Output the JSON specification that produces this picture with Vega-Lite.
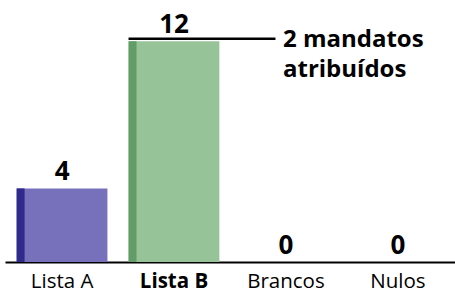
{
  "$schema": "https://vega.github.io/schema/vega-lite/v6.json",
  "width": 450,
  "height": 262,
  "padding": {"left": 5, "top": 0, "right": 0, "bottom": 0},
  "background": "white",
  "config": {"view": {"stroke": null}, "font": "Open Sans"},
  "data": {"values": [
    {"lista": "Lista A", "votos": 4},
    {"lista": "Lista B", "votos": 12},
    {"lista": "Brancos", "votos": 0},
    {"lista": "Nulos", "votos": 0}
  ]},
  "encoding": {
    "x": {"field": "lista", "type": "nominal", "sort": null,
      "scale": {"paddingInner": 0.19, "paddingOuter": 0.105},
      "axis": {"title": null, "domainColor": "black", "domainWidth": 2, "ticks": false, "labelAngle": 0,
        "labelFont": "Open Sans", "labelFontSize": 20.5, "labelColor": "black", "labelPadding": 9,
        "labelFontWeight": {"condition": {"test": "datum.value == 'Lista B'", "value": "bold"}, "value": "normal"}}},
    "y": {"field": "votos", "type": "quantitative", "scale": {"domain": [0, 14.24], "nice": false}, "axis": null}
  },
  "layer": [
    {"mark": {"type": "bar"},
      "encoding": {"fill": {"condition": {"test": "datum.lista == 'Lista A'", "value": "#7770ba"}, "value": "#97c398"}}},
    {"mark": {"type": "bar", "width": 8, "xOffset": -41.5},
      "encoding": {"fill": {"condition": {"test": "datum.lista == 'Lista A'", "value": "#2f2a8c"}, "value": "#629c66"}}},
    {"mark": {"type": "text", "fontSize": 26, "fontWeight": "bold", "font": "Open Sans", "color": "black", "baseline": "alphabetic", "dy": -8},
      "encoding": {"text": {"field": "votos", "type": "quantitative"}}},
    {"transform": [{"filter": "datum.lista == 'Lista B'"}],
      "mark": {"type": "rule", "color": "black", "strokeWidth": 2.5, "xOffset": -45.5, "x2Offset": -10.5, "yOffset": -2.5},
      "encoding": {"x2": {"datum": "Brancos"}}},
    {"transform": [{"filter": "datum.lista == 'Lista B'"}],
      "mark": {"type": "text", "fontSize": 24, "fontWeight": "bold", "font": "Open Sans", "color": "black", "align": "left", "baseline": "top", "dy": -13, "dx": -3, "lineHeight": 30},
      "encoding": {"x": {"datum": "Brancos"}, "text": {"value": ["2 mandatos", "atribuídos"]}}}
  ]
}
